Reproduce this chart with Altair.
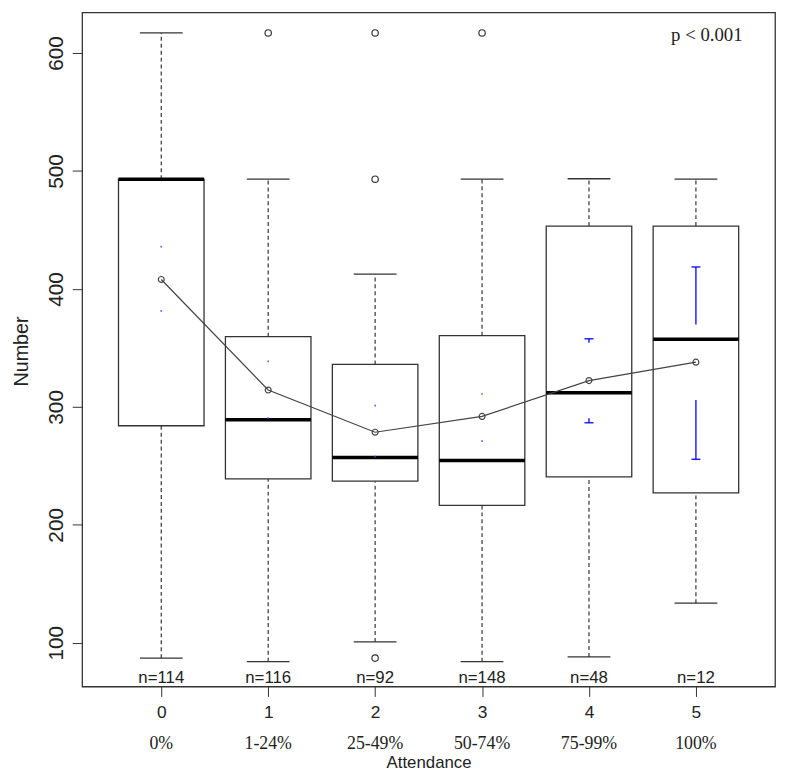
import altair as alt
import pandas as pd

# ---- data ----
levels = [0, 1, 2, 3, 4, 5]
pct_labels = ["0%", "1-24%", "25-49%", "50-74%", "75-99%", "100%"]
n_labels = ["n=114", "n=116", "n=92", "n=148", "n=48", "n=12"]
whisker_lo = [87, 84, 100.8, 84, 88, 133.6]
q1 = [284, 239, 237, 216.5, 240.7, 227]
median = [493, 289, 257, 254.5, 312, 357.3]
q3 = [493, 359.5, 336, 360.4, 453.3, 453.3]
whisker_hi = [617, 493, 412.6, 493, 493.4, 493]
means = [408, 314.3, 278.5, 291.9, 322.3, 337.9]
ci_lo = [381.3, 290.5, 257.9, 270.9, 286.5, 255.6]
ci_hi = [435.8, 338.6, 301.1, 310.9, 357.7, 418.6]
outlier_level = [1, 2, 2, 2, 3]
outlier_value = [617, 617, 493, 87, 617]
y_ticks = [100, 200, 300, 400, 500, 600]
p_text = ["p < 0.001"]
ci_gap = 32  # gap left around the mean by the CI bars (data units)

df = pd.DataFrame({
    "level": levels, "pct": pct_labels, "n": n_labels,
    "lo": whisker_lo, "q1": q1, "med": median, "q3": q3, "hi": whisker_hi,
    "mean": means, "cilo": ci_lo, "cihi": ci_hi,
})
out_df = pd.DataFrame({"level": outlier_level, "value": outlier_value})
p_df = pd.DataFrame({"t": p_text})

SANS = "Liberation Sans"
SERIF = "Liberation Serif"
LINE = "#333333"

W, H = 701, 682

xs = alt.Scale(domain=[-0.74, 5.74], nice=False, zero=False)
ys = alt.Scale(domain=[62.9, 634.4], nice=False, zero=False)

x_axis = alt.Axis(values=levels, format="d", tickSize=10, tickColor=LINE,
                  labelFont=SANS, labelFontSize=17.5, labelColor="#222",
                  labelBaseline="alphabetic", labelPadding=21.5,
                  grid=False, domain=False,
                  title="Attendance", titleFont=SANS, titleFontSize=17,
                  titleFontWeight="normal", titleColor="#222",
                  titleBaseline="alphabetic", titleY=82, titleX=W / 2)
y_axis = alt.Axis(values=y_ticks, tickSize=10, tickColor=LINE,
                  labelFont=SANS, labelFontSize=21, labelColor="#222",
                  labelAngle=270, labelAlign="center", labelBaseline="alphabetic",
                  labelPadding=9.5, grid=False, domain=False,
                  title="Number", titleFont=SANS, titleFontSize=20,
                  titleFontWeight="normal", titleColor="#222",
                  titleAngle=270, titleAlign="center", titleBaseline="alphabetic",
                  titleX=-55, titleY=342.5)

base = alt.Chart(df).transform_calculate(
    xl="datum.level - 0.4", xr="datum.level + 0.4",
    cl="datum.level - 0.2", cr="datum.level + 0.2",
    bl="datum.level - 0.042", br="datum.level + 0.042",
    up0=f"datum.mean + {ci_gap}", dn0=f"datum.mean - {ci_gap}",
)

whisk_hi = base.mark_rule(color=LINE, strokeWidth=1.2, strokeDash=[4, 3]).encode(
    x=alt.X("level:Q", scale=xs, axis=x_axis),
    y=alt.Y("q3:Q", scale=ys, axis=y_axis),
    y2="hi:Q",
)
whisk_lo = base.mark_rule(color=LINE, strokeWidth=1.2, strokeDash=[4, 3]).encode(
    x=alt.X("level:Q", scale=xs), y=alt.Y("lo:Q", scale=ys), y2="q1:Q"
)
cap_hi = base.mark_rule(color=LINE, strokeWidth=1.3).encode(
    x=alt.X("cl:Q", scale=xs), x2="cr:Q", y=alt.Y("hi:Q", scale=ys)
)
cap_lo = base.mark_rule(color=LINE, strokeWidth=1.3).encode(
    x=alt.X("cl:Q", scale=xs), x2="cr:Q", y=alt.Y("lo:Q", scale=ys)
)
box = base.mark_rect(fill="white", stroke=LINE, strokeWidth=1.3).encode(
    x=alt.X("xl:Q", scale=xs), x2="xr:Q", y=alt.Y("q1:Q", scale=ys), y2="q3:Q"
)
med = base.mark_rule(color="black", strokeWidth=3.5, strokeCap="butt").encode(
    x=alt.X("xl:Q", scale=xs), x2="xr:Q", y=alt.Y("med:Q", scale=ys)
)
outl = alt.Chart(out_df).mark_point(shape="circle", filled=False, color=LINE,
                                   size=42, strokeWidth=1.2, opacity=1).encode(
    x=alt.X("level:Q", scale=xs), y=alt.Y("value:Q", scale=ys)
)

# CI bars (blue) with a gap around the mean
ci_up = base.transform_filter("datum.cihi > datum.up0").mark_rule(
    color="#0000ff", strokeWidth=1.3).encode(
    x=alt.X("level:Q", scale=xs), y=alt.Y("up0:Q", scale=ys), y2="cihi:Q")
ci_up_cap = base.transform_filter("datum.cihi > datum.up0").mark_rule(
    color="#0000ff", strokeWidth=1.3).encode(
    x=alt.X("bl:Q", scale=xs), x2="br:Q", y=alt.Y("cihi:Q", scale=ys))
ci_dn = base.transform_filter("datum.cilo < datum.dn0").mark_rule(
    color="#0000ff", strokeWidth=1.3).encode(
    x=alt.X("level:Q", scale=xs), y=alt.Y("cilo:Q", scale=ys), y2="dn0:Q")
ci_dn_cap = base.transform_filter("datum.cilo < datum.dn0").mark_rule(
    color="#0000ff", strokeWidth=1.3).encode(
    x=alt.X("bl:Q", scale=xs), x2="br:Q", y=alt.Y("cilo:Q", scale=ys))
ci_dot_hi = base.transform_filter("datum.cihi <= datum.up0").mark_square(
    color="#3344ff", size=3, opacity=0.8).encode(
    x=alt.X("level:Q", scale=xs), y=alt.Y("cihi:Q", scale=ys))
ci_dot_lo = base.transform_filter("datum.cilo >= datum.dn0").mark_square(
    color="#3344ff", size=3, opacity=0.8).encode(
    x=alt.X("level:Q", scale=xs), y=alt.Y("cilo:Q", scale=ys))

mean_line = base.mark_line(color="#444444", strokeWidth=1.2).encode(
    x=alt.X("level:Q", scale=xs), y=alt.Y("mean:Q", scale=ys)
)
mean_pts = base.mark_point(shape="circle", filled=False, color="#444444",
                           size=36, strokeWidth=1.2, opacity=1).encode(
    x=alt.X("level:Q", scale=xs), y=alt.Y("mean:Q", scale=ys)
)

n_text = base.mark_text(font=SANS, fontSize=17, color="#222",
                        baseline="alphabetic").encode(
    x=alt.X("level:Q", scale=xs), y=alt.value(678.7), text="n:N"
)
pct_text = base.mark_text(font=SERIF, fontSize=18, color="#222",
                          baseline="alphabetic").encode(
    x=alt.X("level:Q", scale=xs), y=alt.value(745), text="pct:N"
)
p_label = alt.Chart(p_df).mark_text(font=SERIF, fontSize=19, color="#222",
                                    baseline="alphabetic").encode(
    x=alt.value(632), y=alt.value(29), text="t:N"
)

chart = alt.layer(
    whisk_hi, whisk_lo, cap_hi, cap_lo, box, med, outl,
    ci_up, ci_up_cap, ci_dn, ci_dn_cap, ci_dot_hi, ci_dot_lo,
    mean_line, mean_pts, n_text, pct_text, p_label,
).properties(
    width=W, height=H,
    autosize=alt.AutoSizeParams(type="none"),
    padding={"left": 75, "top": 0, "right": 4, "bottom": 84},
).configure_view(
    stroke=LINE, strokeWidth=1.3
)

chart.save("out.html", embed_options={"renderer": "svg", "actions": False})
